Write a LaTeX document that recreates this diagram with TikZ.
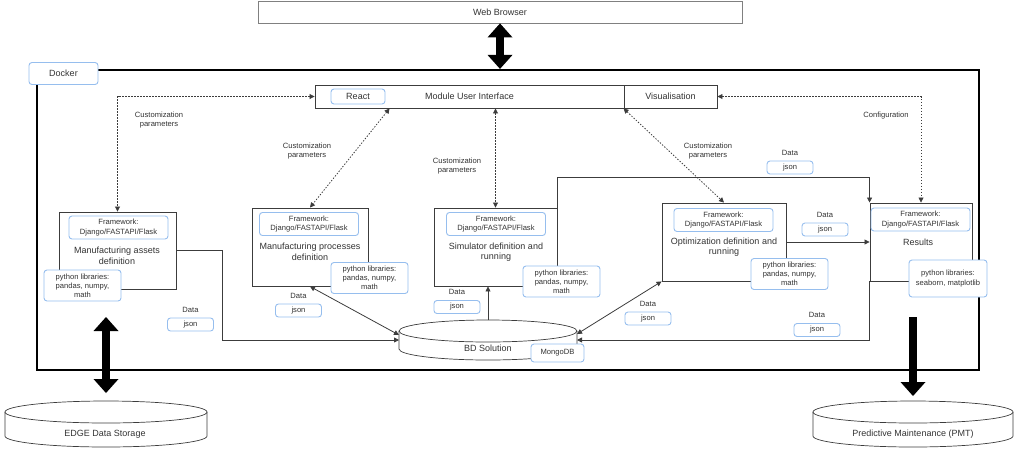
\documentclass[tikz,border=0pt]{standalone}
\usepackage{fontspec}
\setmainfont{Liberation Sans}
\usetikzlibrary{arrows.meta, positioning}

\definecolor{inkgray}{HTML}{333333}
\definecolor{edgegray}{HTML}{3C3C3C}
\definecolor{tagblue}{RGB}{150,190,238}

\tikzset{
  tiny/.style={font=\fontsize{7.6}{9.1}\selectfont, text=inkgray, align=center},
  label9/.style={font=\fontsize{9}{10.5}\selectfont, text=inkgray, align=center},
  module/.style={draw=edgegray, line width=0.9pt, fill=white, inner sep=0pt},
  tagbox/.style={tiny, draw=tagblue, line width=0.9pt, rounded corners=3pt, fill=white, inner sep=0pt},
  store/.style={inner sep=0pt, outer sep=0pt},
  storeline/.style={draw=edgegray, line width=0.7pt},
  cfg/.style={draw=edgegray, line width=0.8pt, dash pattern=on 1.4pt off 1.6pt},
  flow/.style={draw=edgegray, line width=0.8pt},
  heavy/.style={draw=black, line width=8pt},
}

\begin{document}
\begin{tikzpicture}[x=1pt, y=-1pt]
\useasboundingbox (0,0) rectangle (1017,475);

% docker frame and outside world
\node[draw=black, line width=2.2pt, minimum width=942pt, minimum height=300pt, inner sep=0pt] (docker) at (508,220) {};
\node[tagbox, label9, minimum width=69pt, minimum height=22pt] (dockertag) at (63.5,73.5) {Docker};
\node[draw=gray, line width=0.8pt, label9, minimum width=484pt, minimum height=22pt, inner sep=0pt] (browser) at (500,12) {Web Browser};

% user interface
\node[module, minimum width=402pt, minimum height=23pt] (ui) at (516,96.5) {};
\node[module, label9, minimum width=93pt, minimum height=23pt] (vis) at (670.5,96.5) {Visualisation};
\node[label9] (uilabel) at (469.5,96.5) {Module User Interface};
\node[tagbox, label9, minimum width=54pt, minimum height=15pt] (react) at (358,96.5) {React};

% modules
\node[module, minimum width=117pt, minimum height=77pt] (assets) at (117.5,250.5) {};
\node[module, minimum width=116pt, minimum height=78pt] (procs) at (310,247) {};
\node[module, minimum width=123pt, minimum height=78pt] (sim) at (495.5,247) {};
\node[module, minimum width=124pt, minimum height=78pt] (opt) at (724,242) {};
\node[module, minimum width=102pt, minimum height=78pt] (results) at (921,242) {};

\node[label9] (assetstitle) at (117,256) {Manufacturing assets\\definition};
\node[label9] (procstitle) at (310,252) {Manufacturing processes\\definition};
\node[label9] (simtitle) at (496,252) {Simulator definition and\\running};
\node[label9] (opttitle) at (724,247) {Optimization definition and\\running};
\node[label9] (resultstitle) at (918,242) {Results};

\begin{scope}[every node/.style={tagbox, minimum width=99pt, minimum height=23pt}]
    \node (assetsfw) at (118.5,227.5) {Framework:\\Django/FASTAPI/Flask};
    \node (procsfw) at (309,224) {Framework:\\Django/FASTAPI/Flask};
    \node (simfw) at (496,224) {Framework:\\Django/FASTAPI/Flask};
    \node (optfw) at (723.5,220) {Framework:\\Django/FASTAPI/Flask};
    \node (resultsfw) at (920.5,219.5) {Framework:\\Django/FASTAPI/Flask};
\end{scope}

\begin{scope}[every node/.style={tagbox, minimum width=77pt, minimum height=31pt}]
    \node (assetspy) at (82.5,285.5) {python libraries:\\pandas, numpy,\\math};
    \node (procspy) at (369.5,278) {python libraries:\\pandas, numpy,\\math};
    \node (simpy) at (561.5,281.5) {python libraries:\\pandas, numpy,\\math};
    \node (optpy) at (789.5,274) {python libraries:\\pandas, numpy,\\math};
    \node[minimum width=78pt, minimum height=37pt] (resultspy) at (948,278.5) {python libraries:\\seaborn, matplotlib};
\end{scope}

% storages
\node[store, minimum width=178pt, minimum height=40pt] (bd) at (488,340) {};
\draw[storeline] ([yshift=-11pt]bd.north) ellipse [x radius=89pt, y radius=11pt];
\draw[storeline] ([yshift=-11pt]bd.north west) -- ([yshift=11pt]bd.south west)
    arc [start angle=180, end angle=360, x radius=89pt, y radius=11pt] -- ([yshift=-11pt]bd.north east);
\node[label9] (bdlabel) at (488,348) {BD Solution};
\node[tagbox, minimum width=53pt, minimum height=18pt] (mongo) at (557.5,353) {MongoDB};

\node[store, minimum width=202pt, minimum height=46pt] (edgestore) at (106,424) {};
\draw[storeline] ([yshift=-11pt]edgestore.north) ellipse [x radius=101pt, y radius=11pt];
\draw[storeline] ([yshift=-11pt]edgestore.north west) -- ([yshift=11pt]edgestore.south west)
    arc [start angle=180, end angle=360, x radius=101pt, y radius=11pt] -- ([yshift=-11pt]edgestore.north east);
\node[label9] (edgelabel) at (105,434) {EDGE Data Storage};

\node[store, minimum width=200pt, minimum height=46pt] (pmtstore) at (913,424) {};
\draw[storeline] ([yshift=-11pt]pmtstore.north) ellipse [x radius=100pt, y radius=11pt];
\draw[storeline] ([yshift=-11pt]pmtstore.north west) -- ([yshift=11pt]pmtstore.south west)
    arc [start angle=180, end angle=360, x radius=100pt, y radius=11pt] -- ([yshift=-11pt]pmtstore.north east);
\node[label9] (pmtlabel) at (913,434) {Predictive Maintenance (PMT)};

% data labels
\begin{scope}[every node/.style={tagbox, minimum width=46pt, minimum height=13pt}]
    \node (json1) at (190.5,324.5) {json};
    \node (json2) at (298.5,310.5) {json};
    \node (json3) at (457,307) {json};
    \node (json4) at (790,167.5) {json};
    \node (json5) at (825,229.5) {json};
    \node (json6) at (648,318.5) {json};
    \node (json7) at (817,330) {json};
\end{scope}
\begin{scope}[every node/.style={tiny}]
    \node[above=1.5pt of json1] (data1) {Data};
    \node[above=1.5pt of json2] (data2) {Data};
    \node[above=1.5pt of json3] (data3) {Data};
    \node[above=1.5pt of json4] (data4) {Data};
    \node[above=1.5pt of json5] (data5) {Data};
    \node[above=1.5pt of json6] (data6) {Data};
    \node[above=1.5pt of json7] (data7) {Data};
    \node (cust1) at (159,120) {Customization\\parameters};
    \node (cust2) at (307,151) {Customization\\parameters};
    \node (cust3) at (457,166) {Customization\\parameters};
    \node (cust4) at (708,151) {Customization\\parameters};
    \node (config) at (886,116) {Configuration};
\end{scope}

% configuration links
\begin{scope}[>={Triangle[length=5pt,width=5pt]},
              every edge/.style={cfg}]
    \draw[cfg, <->] (ui.west) -| (assets.north);
    \path [<->] ([xshift=75pt]ui.south west) edge (procs.north);
    \path [<->] (ui.south -| sim.north) edge (sim.north);
    \path [<->] (ui.south -| vis.south west) edge (opt.north);
    \draw[cfg, <->] (vis.east) -| (results.north);
\end{scope}

% data links
\begin{scope}[>={Triangle[length=5pt,width=5pt]},
              every edge/.style={flow}]
    \draw[flow, ->] (assets.east) -- ++(46,0) |- (bd.west);
    \path [<->] (procs.south) edge ([yshift=5pt]bd.west);
    \path [->] (bd.north) edge (bd.north |- sim.south);
    \draw[flow, ->] (sim.north east) -- ++(0,-30) -| (results.north west);
    \path [->] (opt.east) edge (opt.east -| results.west);
    \path [<->] (opt.south west) edge ([yshift=6pt]bd.east);
    \draw[flow, ->] (results.south west) |- (bd.east);
\end{scope}

% heavy links
\coordinate (edgeport) at (106,317);
\coordinate (pmtport) at (913,317);
\begin{scope}[>={Triangle[length=14pt,width=25pt,line width=0pt]}]
    \draw[heavy, <->] (browser.south) -- (browser.south |- docker.north);
    \draw[heavy, <->] (edgeport) -- ([yshift=8pt]edgestore.north);
    \draw[heavy, ->] (pmtport) -- ([yshift=5pt]pmtstore.north);
\end{scope}
\end{tikzpicture}
\end{document}
